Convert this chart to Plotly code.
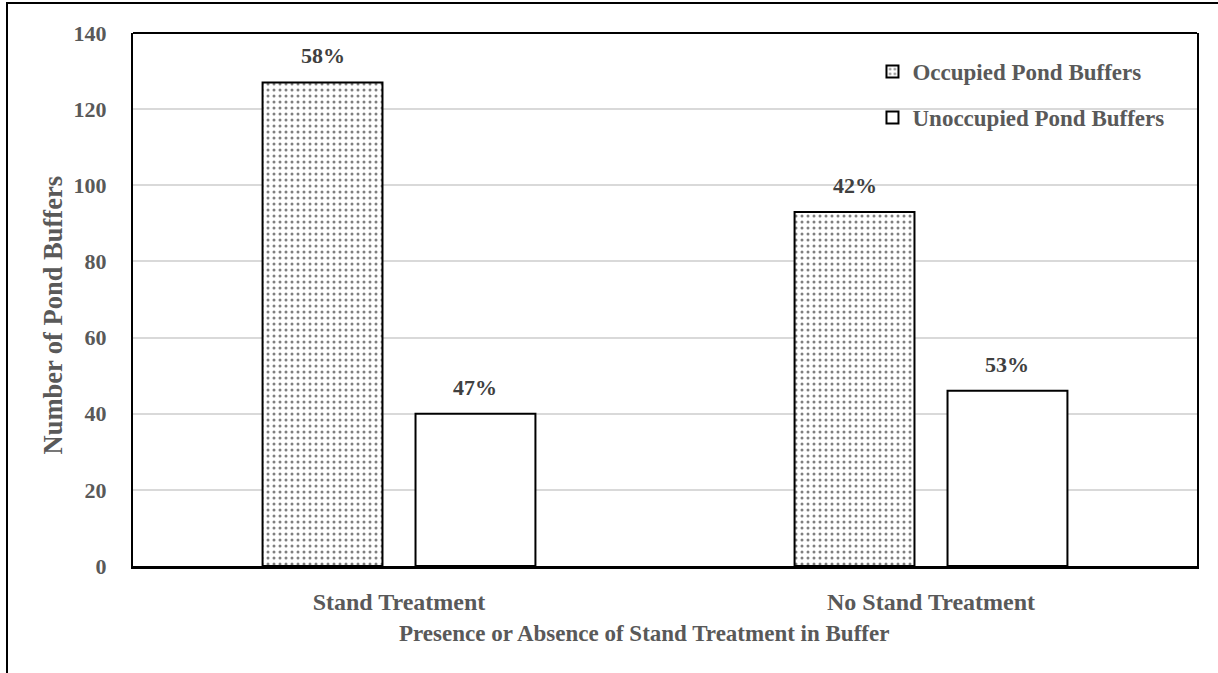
import plotly.graph_objects as go

# Pond buffer counts by stand-treatment presence
categories = ["Stand Treatment", "No Stand Treatment"]
occupied = [127, 93]
unoccupied = [40, 46]
occupied_labels = ["58%", "42%"]
unoccupied_labels = ["47%", "53%"]
y_ticks = [0, 20, 40, 60, 80, 100, 120, 140]

FONT = "Liberation Serif, Times New Roman, serif"
GRAY = "#595959"
LABEL = "#404040"

W, H = 1218, 673
ML, MR, MT, MB = 133, 21, 33, 107
BARGAP = 0.425
BARGROUPGAP = 0.216

fig = go.Figure()
fig.add_trace(go.Bar(
    name="Occupied Pond Buffers", x=categories, y=occupied,
    legendgroup="occ",
    marker=dict(color="white", line=dict(color="black", width=2),
                pattern=dict(shape=".", fgcolor="black", bgcolor="white",
                             size=6, solidity=0.2)),
))
fig.add_trace(go.Bar(
    name="Unoccupied Pond Buffers", x=categories, y=unoccupied,
    legendgroup="unocc",
    marker=dict(color="white", line=dict(color="black", width=2)),
))

# Percentage labels above each bar, shifted to the bar's slot in the group
plot_w = W - ML - MR
slot = plot_w / len(categories) * (1 - BARGAP) / 2
for vals, labels, side in ((occupied, occupied_labels, -1),
                           (unoccupied, unoccupied_labels, 1)):
    for cat, v, lab in zip(categories, vals, labels):
        fig.add_annotation(
            x=cat, y=v, text=lab, showarrow=False,
            xshift=side * slot / 2, yshift=12, yanchor="bottom",
            font=dict(family=FONT, size=22, color=LABEL, weight="bold"),
        )

# Axis titles
fig.add_annotation(
    xref="paper", yref="paper", x=0.48, y=0, yshift=-67, yanchor="middle",
    text="Presence or Absence of Stand Treatment in Buffer",
    showarrow=False, font=dict(family=FONT, size=23, color=GRAY, weight="bold"),
)
fig.add_annotation(
    xref="paper", yref="paper", x=0, xshift=-80, y=0.47, textangle=-90,
    xanchor="center", yanchor="middle",
    text="Number of Pond Buffers", showarrow=False,
    font=dict(family=FONT, size=26.5, color=GRAY, weight="bold"),
)

# Top border of the plot area and the outer frame of the figure
fig.add_shape(type="line", xref="paper", yref="paper", x0=0, x1=1, y0=1, y1=1,
              line=dict(color="black", width=2))
fig.add_shape(type="rect", xref="paper", yref="paper",
              xsizemode="pixel", ysizemode="pixel", xanchor=0, yanchor=1,
              x0=-126, x1=1300, y0=30, y1=-900,
              line=dict(color="black", width=2), fillcolor="rgba(0,0,0,0)")

fig.update_layout(
    width=W, height=H,
    margin=dict(l=ML, r=MR, t=MT, b=MB),
    paper_bgcolor="white", plot_bgcolor="white",
    barmode="group", bargap=BARGAP, bargroupgap=BARGROUPGAP,
    font=dict(family=FONT, color=GRAY),
    showlegend=True,
    legend=dict(x=0.695, y=0.968, xanchor="left", yanchor="top",
                bgcolor="rgba(0,0,0,0)", tracegroupgap=13,
                font=dict(family=FONT, size=23, color=GRAY, weight="bold")),
    xaxis=dict(showline=True, linecolor="black", linewidth=3, mirror=False,
               ticks="", ticklabelstandoff=12,
               tickfont=dict(family=FONT, size=24, color=GRAY, weight="bold")),
    yaxis=dict(range=[0, 140], tickvals=y_ticks, showline=True,
               linecolor="black", linewidth=2, mirror=True,
               showgrid=True, gridcolor="#d9d9d9", gridwidth=1.5,
               zeroline=False, ticks="", ticklabelstandoff=20,
               tickfont=dict(family=FONT, size=22, color=GRAY, weight="bold")),
)

fig.write_html("out.html")
